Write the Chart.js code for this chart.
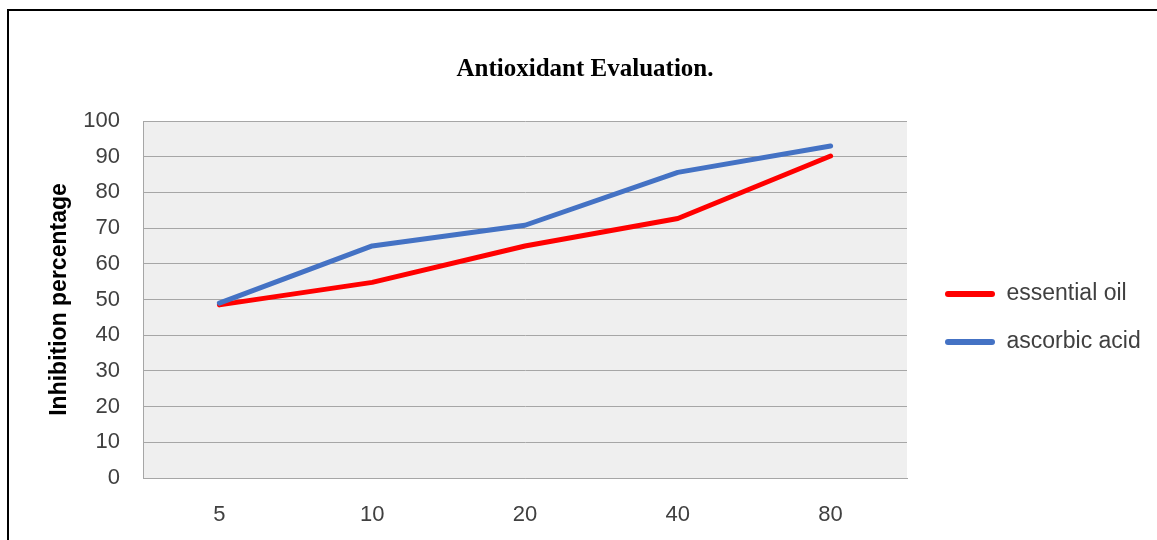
<!DOCTYPE html>
<html>
<head>
<meta charset="utf-8">
<title>Antioxidant Evaluation</title>
<script src="https://cdn.jsdelivr.net/npm/chart.js@4/dist/chart.umd.min.js"></script>
<style>
  html, body { margin: 0; padding: 0; background: #fff; overflow: hidden; }
  #wrap { position: relative; width: 1157px; height: 540px; overflow: hidden; }
  #frame { position: absolute; left: 7px; top: 9px; width: 1300px; height: 700px;
           border-left: 2px solid #000; border-top: 2px solid #000; }
  #chart { position: absolute; left: 0; top: 0; }
</style>
</head>
<body>
<div id="wrap">
  <div id="frame"></div>
  <canvas id="chart" width="1157" height="540"></canvas>
</div>
<script>
// Concentrations on the category axis
const concentrations = ['5', '10', '20', '40', '80'];

// Inhibition percentage per concentration
const essentialOil = [48.5, 54.8, 65.0, 72.7, 90.2];
const ascorbicAcid = [49.0, 65.0, 70.8, 85.6, 93.0];

const SANS = '"Liberation Sans", Arial, sans-serif';
const SERIF = '"Liberation Serif", "Times New Roman", serif';
Chart.defaults.font.family = SANS;

// Light grey fill behind the plotting area
const plotBackground = {
  id: 'plotBackground',
  beforeDraw(chart) {
    const { ctx, chartArea: a } = chart;
    ctx.save();
    ctx.fillStyle = '#efefef';
    ctx.fillRect(a.left, a.top, a.right - a.left, a.bottom - a.top);
    ctx.restore();
  }
};

// Moves the legend block a little right of the plot and down to mid-height
const legendOffset = {
  id: 'legendOffset',
  afterLayout(chart) {
    const l = chart.legend;
    l.left += 13; l.right += 13;
    l.top += 43; l.bottom += 43;
  }
};

new Chart(document.getElementById('chart'), {
  type: 'line',
  data: {
    labels: concentrations,
    datasets: [
      {
        label: 'essential oil',
        data: essentialOil,
        borderColor: '#ff0000',
        backgroundColor: '#ff0000',
        borderWidth: 5,
        pointRadius: 0,
        tension: 0,
        borderCapStyle: 'round',
        borderJoinStyle: 'round',
        order: 1
      },
      {
        label: 'ascorbic acid',
        data: ascorbicAcid,
        borderColor: '#4472c4',
        backgroundColor: '#4472c4',
        borderWidth: 5,
        pointRadius: 0,
        tension: 0,
        borderCapStyle: 'round',
        borderJoinStyle: 'round',
        order: 0
      }
    ]
  },
  options: {
    responsive: false,
    animation: false,
    layout: { padding: { top: 10, left: 42, right: 29, bottom: 0 } },
    plugins: {
      title: {
        display: true,
        text: 'Antioxidant Evaluation.',
        color: '#000',
        font: { family: SERIF, size: 25, weight: 'bold', lineHeight: 1.2 },
        padding: { top: 45, bottom: 36 }
      },
      legend: {
        position: 'right',
        align: 'center',
        maxWidth: 221,
        labels: {
          boxWidth: 50,
          boxHeight: 6,
          padding: 25,
          color: '#404040',
          font: { family: SANS, size: 23 },
          sort: (a, b) => a.datasetIndex - b.datasetIndex,
          generateLabels(chart) {
            const items = Chart.defaults.plugins.legend.labels.generateLabels(chart);
            items.forEach(it => {
              const ds = chart.data.datasets[it.datasetIndex];
              it.fillStyle = ds.borderColor;
              it.strokeStyle = ds.borderColor;
              it.lineWidth = 0;
              it.borderRadius = 3;
            });
            return items;
          }
        }
      },
      tooltip: { enabled: false }
    },
    scales: {
      x: {
        offset: true,
        grid: { display: false, drawTicks: false },
        border: { display: true, color: '#a6a6a6', width: 1 },
        ticks: { padding: 24, color: '#404040', font: { family: SANS, size: 22 } },
        afterFit(scale) { scale.height = 62; }
      },
      y: {
        min: 0,
        max: 100,
        ticks: { stepSize: 10, padding: 23, color: '#404040', font: { family: SANS, size: 22 } },
        grid: { color: '#a6a6a6', lineWidth: 1, drawTicks: false },
        border: { display: true, color: '#a6a6a6', width: 1 },
        title: {
          display: true,
          text: 'Inhibition percentage',
          color: '#000',
          font: { family: SANS, size: 23, weight: 'bold', lineHeight: 1.2 },
          padding: { top: 4, bottom: 4 }
        },
        afterFit(scale) { scale.width = 101; }
      }
    }
  },
  plugins: [plotBackground, legendOffset]
});
</script>
</body>
</html>
